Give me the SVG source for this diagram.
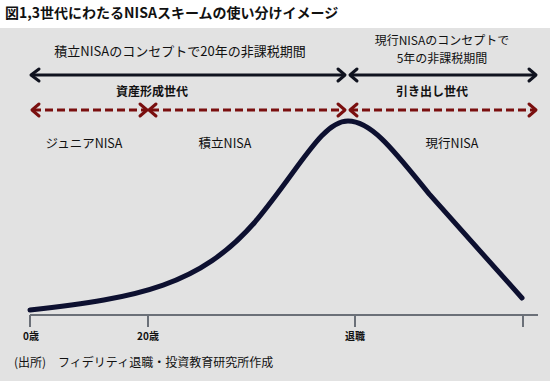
<svg xmlns="http://www.w3.org/2000/svg" width="550" height="381" viewBox="0 0 550 381">
<defs>
<style>
.t{font-family:"Noto Sans CJK JP","Liberation Sans",sans-serif;fill:#111;}
.b{font-weight:bold;}
.arr{fill:none;stroke:#10131f;stroke-width:3;}
.dash{fill:none;stroke:#7a0f0f;stroke-width:3;stroke-dasharray:8,4;}
.head{fill:none;stroke-width:3;stroke-linecap:round;stroke-linejoin:round;}
.ax{fill:none;stroke:#6b7078;stroke-width:2;}
</style>
</defs>
<rect x="0" y="0" width="550" height="381" fill="#ffffff"/>
<rect x="0" y="28" width="550" height="353" fill="#e2e2e2"/>
<text class="t b" x="5" y="18" font-size="14">図1,3世代にわたるNISAスキームの使い分けイメージ</text>

<g id="label-top">
<text class="t" x="180" y="56" font-size="13" text-anchor="middle">積立NISAのコンセプトで20年の非課税期間</text>
<text class="t" x="442" y="45" font-size="12" text-anchor="middle">現行NISAのコンセプトで</text>
<text class="t" x="442" y="63" font-size="12" text-anchor="middle">5年の非課税期間</text>
</g>

<g id="connectors">
<line class="arr" x1="31" y1="75" x2="345" y2="75"/>
<line class="arr" x1="350" y1="75" x2="536" y2="75"/>
<g class="head" stroke="#10131f">
<polyline points="39,69 31,75 39,81"/>
<polyline points="338,69 345,75 338,81"/>
<polyline points="357,69 350,75 357,81"/>
<polyline points="529,69 536,75 529,81"/>
</g>
<line class="dash" x1="33" y1="110" x2="146" y2="110"/>
<line class="dash" x1="151" y1="110" x2="345" y2="110"/>
<line class="dash" x1="350" y1="110" x2="534" y2="110"/>
<g class="head" stroke="#7a0f0f">
<polyline points="39,104 32,110 39,116"/>
<polyline points="140,104 147,110 140,116"/>
<polyline points="156,104 149,110 156,116"/>
<polyline points="338,104 345,110 338,116"/>
<polyline points="357,104 350,110 357,116"/>
<polyline points="529,104 536,110 529,116"/>
</g>
</g>

<g id="gen-labels">
<text class="t b" x="152" y="96" font-size="12" text-anchor="middle">資産形成世代</text>
<text class="t b" x="432" y="96" font-size="12" text-anchor="middle">引き出し世代</text>
</g>

<g id="phase-labels">
<text class="t" x="84" y="148" font-size="12.5" text-anchor="middle">ジュニアNISA</text>
<text class="t" x="225" y="148" font-size="12.5" text-anchor="middle">積立NISA</text>
<text class="t" x="452" y="148" font-size="12.5" text-anchor="middle">現行NISA</text>
</g>

<g id="curve">
<path d="M30,310 C140,298 200,285 255,222 C300,168 322,121 348,121 C372,121 395,152 430,195 L522,298" fill="none" stroke="#0d1030" stroke-width="5" stroke-linecap="round"/>
</g>

<g id="axis">
<line class="ax" x1="30" y1="315" x2="538" y2="315"/>
<line class="ax" x1="30" y1="315" x2="30" y2="327"/>
<line class="ax" x1="148" y1="315" x2="148" y2="327"/>
<line class="ax" x1="355" y1="315" x2="355" y2="327"/>
<line class="ax" x1="523" y1="315" x2="523" y2="327"/>
<text class="t b" x="31" y="340" font-size="10" text-anchor="middle">0歳</text>
<text class="t b" x="148" y="340" font-size="10" text-anchor="middle">20歳</text>
<text class="t b" x="355" y="340" font-size="10" text-anchor="middle">退職</text>
</g>

<text class="t" x="14" y="367" font-size="12">(出所)　フィデリティ退職・投資教育研究所作成</text>
</svg>
